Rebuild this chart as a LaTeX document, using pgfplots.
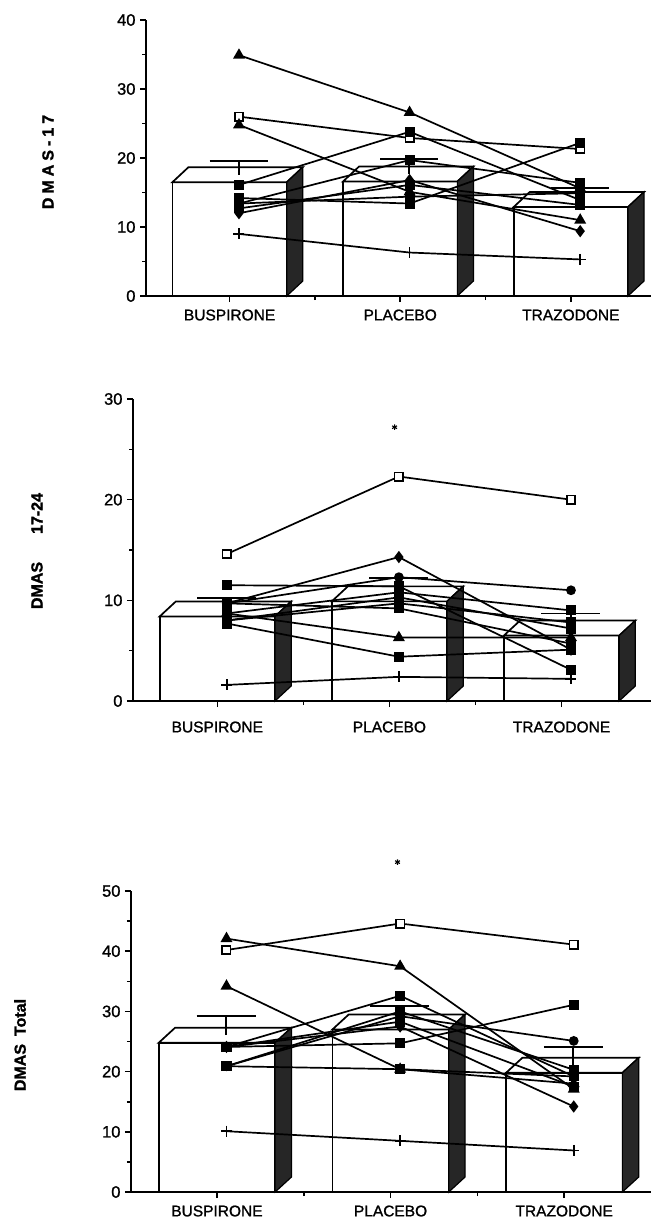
\documentclass[border=0pt]{standalone}
\usepackage{fontspec}
\setmainfont{Liberation Sans}
\newfontfamily\tickfont[FakeBold=1.2]{Liberation Sans}
\newfontfamily\labfont[FakeBold=1.5]{Liberation Sans Bold}
\usepackage{pgfplots}
\pgfplotsset{compat=1.18}

\pgfplotsset{
 panel/.style={
  scale only axis, axis lines=left, axis line style={-, line width=1.7pt},
  enlargelimits=false, clip=false,
  xtick={0,1,2}, minor xtick={0.5,1.5},
  xticklabels={BUSPIRONE,PLACEBO,TRAZODONE},
  tick align=outside, major tick length=6pt, minor tick length=4pt,
  tick style={black, line width=1.6pt},
  minor y tick num=1,
  yticklabel style={font=\tickfont\fontsize{16.5}{18}\selectfont, xshift=-1pt},
  xticklabel style={font=\tickfont\fontsize{15.5}{18}\selectfont, yshift=-4pt},
  /pgf/number format/assume math mode=true,
 },
 bar3d front/.style={draw=black, fill=white, line width=1.7pt},
 bar3d top/.style={draw=black, fill=white, line width=1.7pt},
 bar3d side/.style={draw=black, fill=black!85, line width=1.2pt},
 errbar/.style={black, line width=1.8pt},
 subj/.style={black, line width=1.7pt},
 fsq/.style={subj, mark=square*, mark size=4.2pt, mark options={solid, fill=black}},
 osq/.style={subj, mark=square*, mark size=4.2pt, mark options={solid, fill=white, line width=1.6pt}},
 tri/.style={subj, mark=triangle*, mark size=5.2pt, mark options={solid, fill=black}},
 dia/.style={subj, mark=diamond*, mark size=4.8pt, mark options={solid, fill=black}},
 cir/.style={subj, mark=*, mark size=4pt, mark options={solid, fill=black}},
 pls/.style={subj, mark=+, mark size=5.5pt, mark options={solid, line width=1.6pt}},
 star/.style={black, only marks, mark=asterisk, mark size=2.8pt, mark options={line width=1.1pt}},
}

% #1 category position, #2 bar height, #3 depth in y units, #4 error cap
\newcommand\threedbar[4]{%
  \pgfmathsetmacro\xl{#1-0.335}%
  \pgfmathsetmacro\xr{#1+0.335}%
  \pgfmathsetmacro\xlb{#1-0.241}%
  \pgfmathsetmacro\xrb{#1+0.429}%
  \pgfmathsetmacro\yt{#2+#3}%
  \pgfmathsetmacro\xe{#1+0.053}%
  \pgfmathsetmacro\xea{#1-0.117}%
  \pgfmathsetmacro\xeb{#1+0.223}%
  \pgfmathsetmacro\ym{#2+#3/2}%
  \edef\barcmds{%
    \noexpand\addplot[bar3d front] coordinates {(\xl,0) (\xl,#2) (\xr,#2) (\xr,0)} -- cycle;
    \noexpand\addplot[bar3d top] coordinates {(\xl,#2) (\xlb,\yt) (\xrb,\yt) (\xr,#2)} -- cycle;
    \noexpand\addplot[bar3d side] coordinates {(\xr,0) (\xr,#2) (\xrb,\yt) (\xrb,#3)} -- cycle;
    \noexpand\addplot[errbar] coordinates {(\xe,\ym) (\xe,#4)};
    \noexpand\addplot[errbar] coordinates {(\xea,#4) (\xeb,#4)};
  }%
  \barcmds
}

\begin{document}
\begin{tikzpicture}
\path[use as bounding box] (0pt,0pt) rectangle (651pt,-1227pt);

% ---------------- Panel 1: DMAS-17
\begin{axis}[panel, at={(146pt,-296pt)}, anchor=south west,
  width=505pt, height=276pt, xmin=-0.49, xmax=2.47, ymin=0, ymax=40,
  ytick={0,10,20,30,40}]
\threedbar{0}{16.5}{2.17}{19.6}
\threedbar{1}{16.6}{2.17}{19.9}
\threedbar{2}{12.9}{2.17}{15.6}
\addplot[tri] coordinates {(0.055,34.9) (1.055,26.6) (2.055,15.6)};
\addplot[osq] coordinates {(0.055,26.0) (1.055,22.9) (2.055,21.3)};
\addplot[tri] coordinates {(0.055,24.8) (1.055,15.1) (2.055,11.0)};
\addplot[fsq] coordinates {(0.055,16.1) (1.055,23.8) (2.055,13.9)};
\addplot[fsq] coordinates {(0.055,14.2) (1.055,13.4) (2.055,22.2)};
\addplot[fsq] coordinates {(0.055,13.4) (1.055,19.7) (2.055,16.4)};
\addplot[dia] coordinates {(0.055,12.0) (1.055,16.8) (2.055,9.4)};
\addplot[fsq] coordinates {(0.055,12.7) (1.055,16.1) (2.055,13.2)};
\addplot[fsq] coordinates {(0.055,13.4) (1.055,14.4) (2.055,14.9)};
\addplot[pls] coordinates {(0.055,9.0) (1.055,6.3) (2.055,5.3)};
\end{axis}

% ---------------- Panel 2: DMAS 17-24
\begin{axis}[panel, at={(133pt,-701pt)}, anchor=south west,
  width=518pt, height=302pt, xmin=-0.49, xmax=2.52, ymin=0, ymax=30,
  ytick={0,10,20,30}, xticklabel style={yshift=-7pt}]
\threedbar{0}{8.4}{1.49}{10.2}
\threedbar{1}{9.9}{1.49}{12.2}
\threedbar{2}{6.5}{1.49}{8.7}
\addplot[osq] coordinates {(0.055,14.6) (1.055,22.3) (2.055,20.0)};
\addplot[fsq] coordinates {(0.055,11.5) (1.055,11.4) (2.055,3.1)};
\addplot[dia] coordinates {(0.055,9.7) (1.055,14.3) (2.055,5.1)};
\addplot[cir] coordinates {(0.055,9.7) (1.055,12.3) (2.055,11.0)};
\addplot[fsq] coordinates {(0.055,8.7) (1.055,10.8) (2.055,9.0)};
\addplot[fsq] coordinates {(0.055,8.0) (1.055,10.3) (2.055,7.2)};
\addplot[tri] coordinates {(0.055,8.7) (1.055,6.3) (2.055,6.3)};
\addplot[fsq] coordinates {(0.055,7.7) (1.055,4.4) (2.055,5.1)};
\addplot[fsq] coordinates {(0.055,8.0) (1.055,9.7) (2.055,7.8)};
\addplot[fsq] coordinates {(0.055,9.7) (1.055,9.2) (2.055,5.7)};
\addplot[pls] coordinates {(0.055,1.6) (1.055,2.4) (2.055,2.2)};
\addplot[star] coordinates {(1.03,27.2)};
\end{axis}

% ---------------- Panel 3: DMAS Total
\begin{axis}[panel, at={(131pt,-1192pt)}, anchor=south west,
  width=520pt, height=301pt, xmin=-0.495, xmax=2.50, ymin=0, ymax=50,
  ytick={0,10,20,30,40,50}]
\threedbar{0}{24.8}{2.49}{29.2}
\threedbar{1}{27.0}{2.49}{30.9}
\threedbar{2}{19.8}{2.49}{24.1}
\addplot[osq] coordinates {(0.055,40.2) (1.055,44.6) (2.055,41.1)};
\addplot[tri] coordinates {(0.055,42.1) (1.055,37.5) (2.055,17.1)};
\addplot[tri] coordinates {(0.055,34.2) (1.055,20.4) (2.055,18.0)};
\addplot[fsq] coordinates {(0.055,24.1) (1.055,32.6) (2.055,19.2)};
\addplot[fsq] coordinates {(0.055,24.1) (1.055,24.7) (2.055,31.1)};
\addplot[fsq] coordinates {(0.055,20.9) (1.055,30.0) (2.055,20.3)};
\addplot[dia] coordinates {(0.055,24.1) (1.055,27.5) (2.055,14.2)};
\addplot[cir] coordinates {(0.055,20.9) (1.055,29.2) (2.055,25.1)};
\addplot[fsq] coordinates {(0.055,20.9) (1.055,20.4) (2.055,19.2)};
\addplot[fsq] coordinates {(0.055,24.1) (1.055,28.3) (2.055,17.5)};
\addplot[pls] coordinates {(0.055,10.1) (1.055,8.5) (2.055,6.9)};
\addplot[star] coordinates {(1.04,54.8)};
\end{axis}

\node[rotate=90, font=\labfont\fontsize{16}{18}\selectfont\addfontfeature{LetterSpace=25}] at (48pt,-162pt) {DMAS-17};
\node[rotate=90, font=\labfont\fontsize{16}{18}\selectfont] at (37pt,-551pt) {DMAS\hspace{28pt}17-24};
\node[rotate=90, font=\labfont\fontsize{16}{18}\selectfont] at (20pt,-1045pt) {DMAS\hspace{8pt}Total};
\end{tikzpicture}
\end{document}
